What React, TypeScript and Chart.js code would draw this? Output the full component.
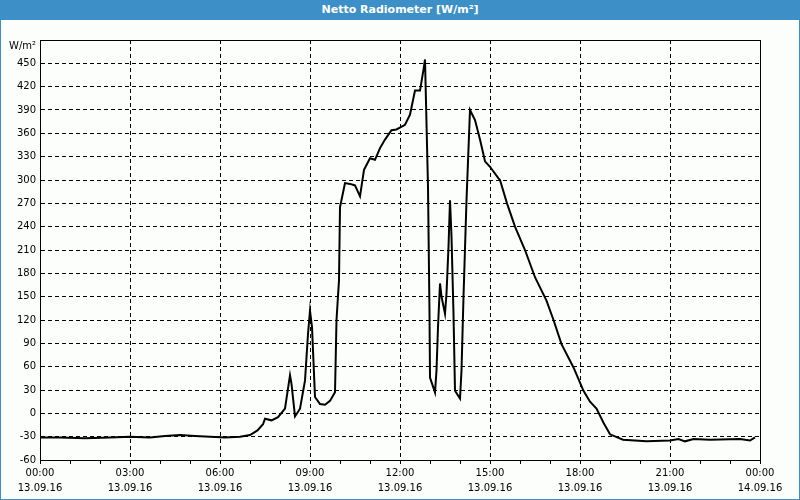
import React, { useEffect, useRef } from 'react';
import { Chart, registerables } from 'chart.js';

Chart.register(...registerables);

const TITLE = 'Netto Radiometer [W/m²]';
const UNIT = 'W/m²';

const times = [
  '00:00', '00:40', '01:30', '02:20', '03:00', '03:40', '04:10', '04:40', '05:10', '05:40',
  '06:10', '06:40', '07:00', '07:15', '07:26', '07:30', '07:43', '07:56', '08:10', '08:20',
  '08:23', '08:30', '08:40', '08:50', '08:56', '09:00', '09:04', '09:10', '09:20', '09:30',
  '09:40', '09:50', '09:53', '09:58', '10:00', '10:10', '10:20', '10:30', '10:40', '10:48',
  '11:00', '11:10', '11:20', '11:30', '11:43', '11:53', '12:10', '12:20', '12:30', '12:40',
  '12:47', '12:50', '12:53', '12:56', '12:59', '13:00', '13:10', '13:13', '13:16', '13:20',
  '13:23', '13:30', '13:33', '13:37', '13:40', '13:43', '13:47', '13:50', '14:00', '14:03',
  '14:07', '14:13', '14:20', '14:30', '14:40', '14:50', '15:00', '15:17', '15:20', '15:34',
  '15:50', '16:10', '16:30', '16:53', '17:07', '17:23', '17:47', '18:07', '18:20', '18:33',
  '18:47', '19:00', '19:26', '20:13', '21:00', '21:17', '21:30', '21:47', '22:20', '23:20',
  '23:40', '23:50',
];

const values = [
  -31, -31, -32, -31, -30, -31, -29, -28, -29, -30,
  -31, -30, -28, -22, -14, -7, -9, -5, 6, 49,
  38, -4, 6, 42, 102, 132, 111, 21, 12, 11,
  16, 27, 120, 171, 265, 296, 295, 293, 279, 313,
  328, 326, 341, 352, 364, 365, 371, 384, 415, 415,
  442, 455, 373, 291, 128, 46, 27, 55, 111, 167,
  150, 128, 154, 214, 274, 227, 128, 29, 19, 55,
  150, 274, 390, 377, 352, 324, 317, 302, 300, 270,
  240, 210, 175, 145, 120, 89, 59, 29, 15, 6,
  -12, -27, -34, -36, -35, -33, -36, -33, -34, -33,
  -35, -31,
];

const xTickTimes = ['00:00', '03:00', '06:00', '09:00', '12:00', '15:00', '18:00', '21:00', '00:00'];
const xTickDates = ['13.09.16', '13.09.16', '13.09.16', '13.09.16', '13.09.16', '13.09.16', '13.09.16', '13.09.16', '14.09.16'];

const Y_MIN = -60;
const Y_MAX = 480;
const Y_STEP = 30;

const BLUE = '#3d90c7';
const BG = '#fbfefb';
const FONT = 'DejaVu Sans';

function toHours(t: string): number {
  const [h, m] = t.split(':').map(Number);
  return h + m / 60;
}

const framePlugin = {
  id: 'frame',
  beforeDraw(chart: any) {
    const ctx = chart.ctx;
    ctx.save();
    ctx.fillStyle = BG;
    ctx.fillRect(0, 0, chart.width, chart.height);
    ctx.restore();
  },
  afterDraw(chart: any) {
    const { ctx, chartArea } = chart;
    const { left, top, right, bottom } = chartArea;
    ctx.save();
    ctx.strokeStyle = '#000';
    ctx.lineWidth = 1;
    ctx.setLineDash([]);
    ctx.strokeRect(Math.round(left) + 0.5, Math.round(top) + 0.5, Math.round(right - left), Math.round(bottom - top));
    ctx.fillStyle = '#000';
    ctx.font = `10px "${FONT}"`;
    ctx.textAlign = 'right';
    ctx.textBaseline = 'middle';
    ctx.fillText(UNIT, left - 4, top + 6);
    ctx.restore();
  },
};

export default function App() {
  const canvasRef = useRef<HTMLCanvasElement | null>(null);

  useEffect(() => {
    const canvas = canvasRef.current;
    if (!canvas) return;
    const data = times.map((t, i) => ({ x: toHours(t), y: values[i] }));
    const chart = new Chart(canvas, {
      type: 'line',
      data: {
        datasets: [
          {
            data,
            borderColor: '#000',
            borderWidth: 2,
            pointRadius: 0,
            tension: 0,
            fill: false,
          },
        ],
      },
      options: {
        animation: false,
        responsive: false,
        maintainAspectRatio: false,
        layout: { padding: { left: 0, top: 40, right: 40, bottom: 0 } },
        plugins: {
          legend: { display: false },
          tooltip: { enabled: false },
          title: { display: false },
        },
        scales: {
          x: {
            type: 'linear',
            min: 0,
            max: 24,
            afterFit(scale: any) {
              scale.height = 40;
            },
            ticks: {
              stepSize: 1,
              autoSkip: false,
              maxRotation: 0,
              minRotation: 0,
              padding: 2,
              color: '#000',
              font: { family: FONT, size: 10, lineHeight: 1.5 },
              callback(value: any) {
                const v = Number(value);
                if (v % 3 !== 0) return '';
                const i = v / 3;
                return [xTickTimes[i], xTickDates[i]];
              },
            },
            grid: {
              color: (c: any) => (c.tick && c.tick.value % 3 === 0 ? '#000' : 'rgba(0,0,0,0)'),
              tickColor: '#000',
              tickLength: 4,
              lineWidth: 1,
            },
            border: { display: true, color: '#000', dash: [4, 3] },
          },
          y: {
            min: Y_MIN,
            max: Y_MAX,
            afterFit(scale: any) {
              scale.width = 40;
            },
            ticks: {
              stepSize: Y_STEP,
              padding: 4,
              color: '#000',
              font: { family: FONT, size: 10 },
              callback(value: any) {
                const v = Number(value);
                if (v === Y_MAX) return '';
                return String(v);
              },
            },
            grid: {
              color: '#000',
              drawTicks: false,
              lineWidth: 1,
            },
            border: { display: true, color: '#000', dash: [4, 3] },
          },
        },
      },
      plugins: [framePlugin],
    });
    return () => chart.destroy();
  }, []);

  return (
    <div style={{ position: 'absolute', left: 0, top: 0, width: 800, height: 500, background: BG }}>
      <canvas ref={canvasRef} width={800} height={500} style={{ position: 'absolute', left: 0, top: 0, width: 800, height: 500 }} />
      <div
        style={{
          position: 'absolute',
          left: 0,
          top: 0,
          width: 800,
          height: 20,
          background: BLUE,
          color: '#fff',
          fontFamily: FONT,
          fontWeight: 'bold',
          fontSize: 11,
          lineHeight: '20px',
          textAlign: 'center',
        }}
      >
        {TITLE}
      </div>
      <div
        style={{
          position: 'absolute',
          left: 0,
          top: 0,
          width: 800,
          height: 500,
          boxSizing: 'border-box',
          border: `1px solid ${BLUE}`,
          pointerEvents: 'none',
        }}
      />
    </div>
  );
}
